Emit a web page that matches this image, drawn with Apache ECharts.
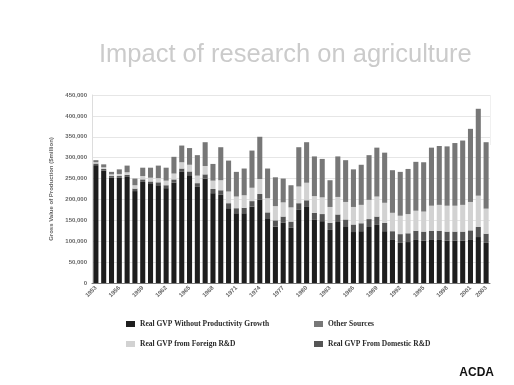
<!DOCTYPE html>
<html>
<head>
<meta charset="utf-8">
<script src="https://cdn.jsdelivr.net/npm/echarts@6/dist/echarts.min.js"></script>
<style>
  html, body { margin: 0; padding: 0; background: #ffffff; }
  #chart { width: 514px; height: 385px; }
</style>
</head>
<body>
<div id="chart"></div>
<script>
// Years on the category axis
const years = [];
for (let y = 1953; y <= 2003; y++) years.push(String(y));

// Gross value of production components ($million)
const withoutGrowth = [
  282000, 269000, 252000, 252000, 254000, 220000, 242000, 237000, 234000, 227000,
  240000, 266000, 258000, 230000, 250000, 215000, 211000, 179000, 167000, 167000,
  183000, 199000, 155000, 135000, 144000, 132000, 175000, 182000, 151000, 148000,
  127000, 146000, 134000, 122000, 124000, 134000, 139000, 124000, 103000, 96000,
  98000, 103000, 101000, 103000, 103000, 101000, 101000, 101000, 103000, 110000, 96000
];
const domesticRD = [
  4000, 4000, 4000, 4000, 5000, 6000, 6000, 6000, 7000, 7000,
  8000, 8000, 9000, 9000, 10000, 10000, 11000, 12000, 12000, 13000,
  13000, 14000, 14000, 15000, 15000, 15000, 16000, 16000, 17000, 17000,
  17000, 18000, 18000, 18000, 19000, 19000, 20000, 20000, 21000, 21000,
  21000, 22000, 22000, 22000, 22000, 22000, 22000, 22000, 23000, 24000, 22000
];
const foreignRD = [
  3000, 4000, 4000, 5000, 6000, 8000, 8000, 9000, 10000, 11000,
  14000, 15000, 16000, 18000, 20000, 20000, 24000, 28000, 28000, 30000,
  32000, 36000, 34000, 34000, 34000, 34000, 40000, 42000, 40000, 40000,
  38000, 42000, 42000, 42000, 44000, 46000, 48000, 48000, 44000, 44000,
  46000, 48000, 48000, 60000, 62000, 62000, 62000, 64000, 68000, 75000, 60000
];
const otherSources = [
  5000, 7000, 6000, 11000, 16000, 16000, 20000, 24000, 30000, 31000,
  40000, 40000, 40000, 49000, 57000, 40000, 79000, 74000, 59000, 64000,
  89000, 101000, 71000, 69000, 57000, 53000, 94000, 97000, 95000, 92000,
  64000, 97000, 100000, 90000, 96000, 107000, 117000, 120000, 102000, 105000,
  108000, 117000, 118000, 139000, 141000, 142000, 150000, 154000, 175000, 208000, 159000
];

const names = {
  without: 'Real GVP Without Productivity Growth',
  other: 'Other Sources',
  foreign: 'Real GVP from Foreign R&D',
  domestic: 'Real GVP From Domestic R&D'
};

const legendText = {
  fontFamily: 'Liberation Serif',
  fontWeight: 'bold',
  fontSize: 7.5,
  color: '#2a2a2a'
};

const chart = echarts.init(document.getElementById('chart'), null, { renderer: 'canvas' });

chart.setOption({
  backgroundColor: '#ffffff',
  animation: false,
  title: {
    text: 'Impact of research on agriculture',
    left: 94,
    top: 37,
    textStyle: {
      fontFamily: 'Liberation Sans',
      fontWeight: 'normal',
      fontSize: 25.5,
      color: '#cbcbcb'
    }
  },
  legend: [
    {
      orient: 'vertical',
      left: 121,
      top: 315,
      itemGap: 12,
      itemWidth: 9,
      itemHeight: 6,
      icon: 'rect',
      textStyle: legendText,
      data: [names.without, names.foreign]
    },
    {
      orient: 'vertical',
      left: 309,
      top: 315,
      itemGap: 12,
      itemWidth: 9,
      itemHeight: 6,
      icon: 'rect',
      textStyle: legendText,
      data: [names.other, names.domestic]
    }
  ],
  grid: { left: 92, right: 24, top: 95, bottom: 102 },
  xAxis: {
    type: 'category',
    data: years,
    axisLine: { lineStyle: { color: '#777' } },
    axisTick: { show: false },
    axisLabel: {
      rotate: 45,
      interval: (i) => i % 3 === 0 || i === years.length - 1,
      fontSize: 6,
      fontFamily: 'Liberation Sans',
      fontWeight: 'bold',
      color: '#666',
      margin: 4
    }
  },
  yAxis: {
    type: 'value',
    min: 0,
    max: 450000,
    interval: 50000,
    name: 'Gross Value of Production ($million)',
    nameLocation: 'middle',
    nameGap: 36,
    nameTextStyle: {
      fontSize: 6,
      fontFamily: 'Liberation Sans',
      fontWeight: 'bold',
      color: '#666'
    },
    axisLine: { show: true, lineStyle: { color: '#ddd' } },
    axisTick: { show: false },
    axisLabel: {
      fontSize: 6,
      fontFamily: 'Liberation Sans',
      fontWeight: 'bold',
      color: '#666',
      margin: 5
    },
    splitLine: { lineStyle: { color: '#e6e6e6' } }
  },
  series: [
    { name: names.without, type: 'bar', stack: 'gvp', data: withoutGrowth,
      barCategoryGap: '35%', itemStyle: { color: '#1e1e1e' } },
    { name: names.domestic, type: 'bar', stack: 'gvp', data: domesticRD,
      itemStyle: { color: '#555555' } },
    { name: names.foreign, type: 'bar', stack: 'gvp', data: foreignRD,
      itemStyle: { color: '#d2d2d2' } },
    { name: names.other, type: 'bar', stack: 'gvp', data: otherSources,
      itemStyle: { color: '#777777' } }
  ],
  graphic: [
    {
      type: 'rect',
      shape: { x: 490, y: 95, width: 0.5, height: 50 },
      style: { fill: '#e2e2e2' },
      silent: true
    },
    {
      type: 'text',
      right: 20,
      top: 367,
      style: {
        text: 'ACDA',
        font: 'bold 12px "Liberation Sans"',
        fill: '#111'
      }
    }
  ]
});
</script>
</body>
</html>
